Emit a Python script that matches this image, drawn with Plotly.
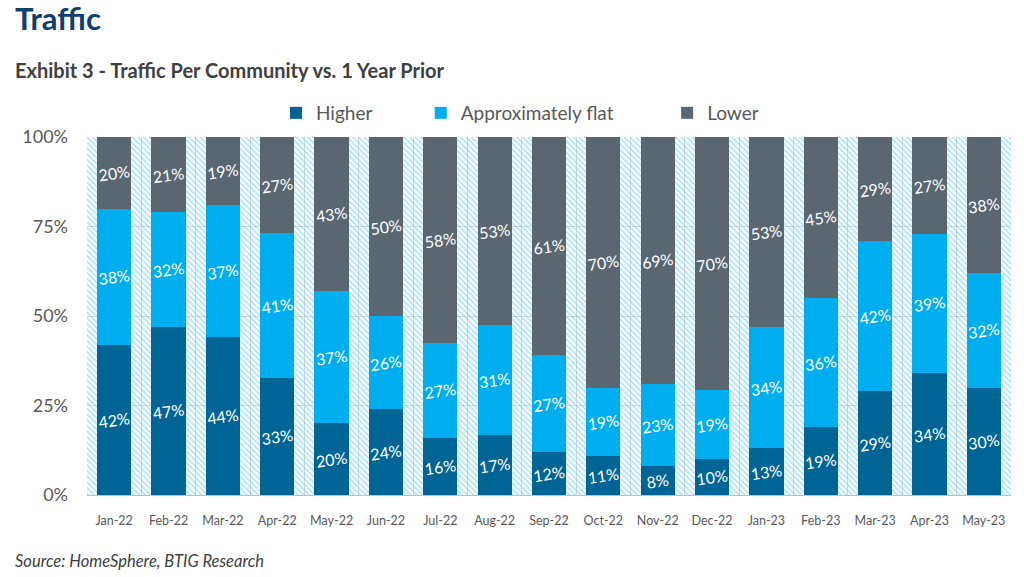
import plotly.graph_objects as go

months = ["Jan-22", "Feb-22", "Mar-22", "Apr-22", "May-22", "Jun-22", "Jul-22", "Aug-22",
          "Sep-22", "Oct-22", "Nov-22", "Dec-22", "Jan-23", "Feb-23", "Mar-23", "Apr-23", "May-23"]
higher = [42, 47, 44, 33, 20, 24, 16, 17, 12, 11, 8, 10, 13, 19, 29, 34, 30]
flat = [38, 32, 37, 41, 37, 26, 27, 31, 27, 19, 23, 19, 34, 36, 42, 39, 32]
lower = [20, 21, 19, 27, 43, 50, 58, 53, 61, 70, 69, 70, 53, 45, 29, 27, 38]
full = [100] * len(months)
ytick_vals = [0, 25, 50, 75, 100]
ytick_text = ["0%", "25%", "50%", "75%", "100%"]

NB = "\u00a0"
series = [("Higher", higher, "#006494", 9), ("Approximately flat", flat, "#00AEEF", 10),
          ("Lower", lower, "#5A6670", 0)]

FONT = "Lato"
W, H = 1024, 577
PL, PR, PT, PB = 87, 1011, 137, 495
pw, ph = PR - PL, PB - PT


def px(x):
    return (x - PL) / pw


def py(y):
    return (PB - y) / ph


fig = go.Figure()

# hatched background slots
fig.add_trace(go.Bar(
    x=months, y=full, width=1, showlegend=False, hoverinfo="skip",
    marker=dict(color="rgba(0,0,0,0)", line=dict(width=0),
                pattern=dict(shape="\\", fgcolor="#5CC8F2", bgcolor="rgba(0,0,0,0)", size=4, solidity=0.45)),
    xaxis="x", yaxis="y",
))

for name, vals, col, pad in series:
    fig.add_trace(go.Bar(
        x=months, y=vals, name=name + NB * pad, marker=dict(color=col, line=dict(width=0)),
        text=[f"{v}%" for v in vals], textposition="inside", insidetextanchor="middle",
        textangle=-8, constraintext="none",
        textfont=dict(family=FONT, size=16, color="white"),
        xaxis="x2", yaxis="y",
    ))

fig.update_layout(
    width=W, height=H,
    margin=dict(l=PL, r=W - PR, t=PT, b=H - PB),
    paper_bgcolor="white", plot_bgcolor="white",
    barmode="stack", barnorm="percent", bargap=0.37,
    font=dict(family=FONT, color="#595959"),
    xaxis=dict(type="category", tickson="boundaries", showgrid=True, gridcolor="#D9D9D9", gridwidth=1,
               showline=True, linecolor="#BFBFBF", linewidth=1, ticks="", range=[-0.5, 16.5],
               tickfont=dict(family=FONT, size=12.5, color="#595959"), ticklabelstandoff=14),
    xaxis2=dict(type="category", overlaying="x", matches="x", visible=False, range=[-0.5, 16.5]),
    yaxis=dict(range=[0, 100], tickvals=ytick_vals, ticktext=ytick_text, showgrid=True,
               gridcolor="#D9D9D9", gridwidth=1, zeroline=False, ticks="",
               tickfont=dict(family=FONT, size=18, color="#595959"), ticklabelstandoff=18),
    legend=dict(orientation="h", traceorder="normal", x=px(276), xanchor="left", y=py(113),
                yanchor="middle", font=dict(family=FONT, size=19, color="#595959"),
                bgcolor="rgba(0,0,0,0)"),
    annotations=[
        dict(text="<b>Traffic</b>", xref="paper", yref="paper",
             x=px(13), y=py(18), xanchor="left", yanchor="middle", showarrow=False,
             font=dict(family=FONT, size=31, color="#0E3F6E")),
        dict(text="<b>Exhibit 3 - Traffic Per Community vs. 1 Year Prior</b>", xref="paper", yref="paper",
             x=px(13), y=py(70), xanchor="left", yanchor="middle", showarrow=False,
             font=dict(family=FONT, size=20, color="#404040")),
        dict(text="<i>Source: HomeSphere, BTIG Research</i>", xref="paper", yref="paper",
             x=px(13), y=py(561), xanchor="left", yanchor="middle", showarrow=False,
             font=dict(family=FONT, size=16.5, color="#404040")),
    ],
)

fig.write_html("out.html", config={"displayModeBar": False},
               post_script="document.body.style.margin='0px';document.body.style.overflow='hidden';")
